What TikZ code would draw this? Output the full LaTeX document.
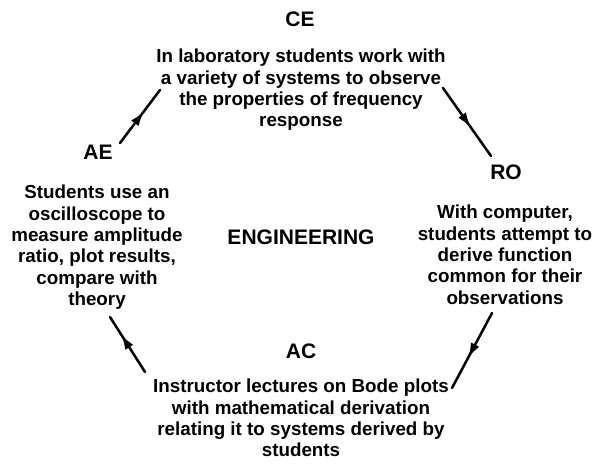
\documentclass[tikz,border=0pt]{standalone}
\usepackage{fontspec}
\setmainfont{Liberation Sans}
\usetikzlibrary{arrows.meta,decorations.markings}

\tikzset{
  phase/.style={font=\bfseries\fontsize{21bp}{25bp}\selectfont, inner sep=0pt, anchor=base},
  activity/.style={font=\bfseries\fontsize{18.8bp}{21.3bp}\selectfont, align=center, inner sep=0pt, anchor=north},
  cyclearrow/.style={line width=2.5bp, line cap=round,
    decoration={markings, mark=at position #1 with {\arrow{Latex[length=15bp,width=9.5bp]}}},
    postaction={decorate}},
  cyclearrow/.default=0.6
}

\begin{document}
\begin{tikzpicture}[x=1bp, y=-1bp]
  \fill[white] (0,0) rectangle (599,464);
  \useasboundingbox (0,0) rectangle (599,464);

  % the four stages of the learning cycle
  \node[phase] (ce) at (300,27) {CE};
  \node[activity] (cetext) at (301,49) {In laboratory students work with\\a variety of systems to observe\\the properties of frequency\\response};

  \node[phase] (ro) at (506,180) {RO};
  \node[activity] (rotext) at (505,205) {With computer,\\students attempt to\\derive function\\common for their\\observations};

  \node[phase] (ac) at (301,358) {AC};
  \node[activity] (actext) at (301,379) {Instructor lectures on Bode plots\\with mathematical derivation\\relating it to systems derived by\\students};

  \node[phase] (ae) at (98,160) {AE};
  \node[activity] (aetext) at (97,185) {Students use an\\oscilloscope to\\measure amplitude\\ratio, plot results,\\compare with\\theory};

  \node[phase] (eng) at (301,245) {ENGINEERING};

  % arrow end points around the cycle
  \coordinate (ceA) at (443,88);  \coordinate (roA) at (491,156);
  \coordinate (roB) at (492,313); \coordinate (acB) at (452,388);
  \coordinate (acC) at (145,372); \coordinate (aeC) at (110,317);
  \coordinate (aeD) at (120,143); \coordinate (ceD) at (160,90);

  \draw[cyclearrow=0.58] (ceA) -- (roA);
  \draw[cyclearrow] (roB) -- (acB);
  \draw[cyclearrow=0.68] (acC) -- (aeC);
  \draw[cyclearrow] (aeD) -- (ceD);
\end{tikzpicture}
\end{document}
